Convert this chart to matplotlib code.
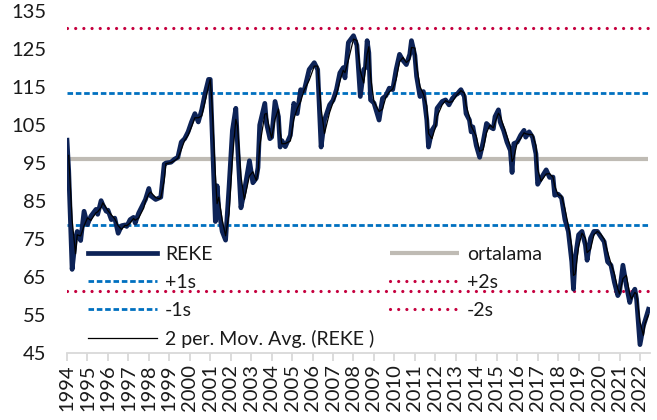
import matplotlib
matplotlib.use("Agg")
import matplotlib.pyplot as plt
import numpy as np
import pandas as pd

plt.rcParams['font.family'] = ['Lato', 'DejaVu Sans']

# ---- data ----
dates = [
    "1994-01", "1994-02", "1994-04", "1994-06", "1994-07", "1994-09", "1994-11",
    "1995-01", "1995-03", "1995-06", "1995-07", "1995-09", "1995-10", "1995-12",
    "1996-01", "1996-03", "1996-05", "1996-07", "1996-09", "1996-11", "1996-12",
    "1997-02", "1997-04", "1997-05", "1997-07", "1997-10", "1997-11",
    "1998-01", "1998-02", "1998-05", "1998-07", "1998-08", "1998-10", "1998-11",
    "1999-02", "1999-04", "1999-06", "1999-08", "1999-10", "1999-12",
    "2000-02", "2000-04", "2000-06", "2000-08", "2000-10", "2000-12",
    "2001-01", "2001-02", "2001-04", "2001-05", "2001-06", "2001-08", "2001-10", "2001-12",
    "2002-02", "2002-04", "2002-05", "2002-07", "2002-09", "2002-12",
    "2003-02", "2003-04", "2003-05", "2003-06", "2003-09", "2003-10", "2003-12",
    "2004-01", "2004-03", "2004-05", "2004-06", "2004-07", "2004-09", "2004-12",
    "2005-02", "2005-04", "2005-06", "2005-08", "2005-11",
    "2006-02", "2006-04", "2006-06", "2006-08", "2006-11",
    "2007-01", "2007-03", "2007-05", "2007-07", "2007-08", "2007-10",
    "2008-01", "2008-03", "2008-05", "2008-07", "2008-08", "2008-09", "2008-10", "2008-11",
    "2009-01", "2009-04", "2009-06", "2009-08", "2009-10", "2009-12",
    "2010-02", "2010-04", "2010-06", "2010-08", "2010-10", "2010-11",
    "2011-01", "2011-02", "2011-04", "2011-06", "2011-08", "2011-09", "2011-11",
    "2012-01", "2012-02", "2012-05", "2012-07", "2012-09", "2012-11",
    "2013-01", "2013-02", "2013-03", "2013-04", "2013-06", "2013-07", "2013-09", "2013-10", "2013-11",
    "2014-01", "2014-03", "2014-05", "2014-07", "2014-09", "2014-11", "2014-12",
    "2015-02", "2015-03", "2015-05", "2015-07", "2015-09", "2015-10", "2015-11",
    "2016-01", "2016-03", "2016-05", "2016-06", "2016-08", "2016-10", "2016-12",
    "2017-01", "2017-03", "2017-06", "2017-08", "2017-10", "2017-11",
    "2018-01", "2018-03", "2018-05", "2018-07", "2018-09", "2018-10", "2018-11",
    "2019-01", "2019-03", "2019-05", "2019-06", "2019-08", "2019-10", "2019-12",
    "2020-02", "2020-04", "2020-06", "2020-08", "2020-10", "2020-12",
    "2021-01", "2021-03", "2021-05", "2021-07", "2021-08", "2021-10", "2021-11",
    "2022-01", "2022-03", "2022-04", "2022-06",
]
reke = [
    101, 93, 67, 75.2, 77, 74.6, 82.3,
    78.8, 81, 82.8, 81.5, 85.1, 84, 82.3,
    82.6, 80.1, 80.5, 76.5, 78.5, 78.7, 78.3,
    80.1, 80.7, 79.2, 81.8, 84.5, 85.4,
    88.3, 86.4, 85.4, 85.8, 86, 94.7, 95,
    95.2, 96, 96.5, 100.5, 101.4, 103.2,
    105.8, 108, 105.8, 109, 113.4, 117,
    117, 104.5, 79.6, 89, 83, 77, 74.7, 88.5,
    103.6, 109.4, 100, 83.2, 87.6, 95.6,
    89.8, 91, 93.8, 105, 110.7, 105.4, 101.4,
    101.8, 111.2, 107.2, 99.2, 100.9, 99.3, 102.3,
    110.7, 108, 114.3, 113.9, 119.6,
    121.4, 119.6, 99.2, 106.3, 110.3,
    111.5, 114.3, 118.7, 120.1, 117.4, 126.7,
    128.5, 126, 112.5, 119.6, 120.1, 127.2, 124, 111.6,
    110.8, 106.3, 112, 112.7, 114.7, 114.3,
    119.6, 123.6, 122, 120.9, 123.6, 127.2,
    123.3, 117.8, 112.5, 113.8, 106.3, 99.2, 103.6,
    105, 109.4, 111.2, 111.6, 110.3, 112,
    113, 113.2, 113.8, 114.3, 112.5, 108, 106.3, 103.2, 104.5,
    99.6, 96.5, 100.5, 105.4, 104.5, 104, 107.2,
    109, 105.8, 103.6, 100.5, 98.3, 92.5, 100.1,
    100.5, 102.3, 103.6, 101.8, 103.2, 101.8, 97.4,
    89.4, 91, 93.2, 91.2, 91.3, 86.5,
    86.8, 85.8, 80.1, 77, 69, 61.8, 69.8,
    76.1, 77, 73.4, 69.4, 75.2, 77, 77,
    75.6, 74.3, 69, 68.1, 63.6, 60.1,
    61, 68.1, 62.8, 58.3, 60.1, 61.8, 59.2,
    47.2, 52.1, 53.5, 56.5,
]
ortalama = 96.0      # long-run mean
sigma = 17.3         # one standard deviation
year_ticks = list(range(1994, 2023))
y_ticks = list(range(45, 136, 10))

# ---- prep ----
t = np.array([int(d[:4]) + (int(d[5:]) - 1) / 12 for d in dates])
s = pd.Series(reke, index=t)
ma2 = s.rolling(2).mean()
ones = np.ones_like(t)

navy = '#0D2357'
blue = '#0070C0'
red = '#C5003E'
gray = '#BFBBB4'
txt = '#1a1a1a'

fig = plt.figure(figsize=(6.57, 4.2), dpi=100)
ax = fig.add_axes([67 / 657, (420 - 353) / 420, (650 - 67) / 657, (353 - 11) / 420])

l_mean, = ax.plot(t, ones * ortalama, color=gray, lw=3.0, solid_capstyle='butt', label='ortalama')
l_p1, = ax.plot(t, ones * (ortalama + sigma), color=blue, lw=2.0, ls=(0, (2.0, 1.0)), label='+1s')
l_m1, = ax.plot(t, ones * (ortalama - sigma), color=blue, lw=2.0, ls=(0, (2.0, 1.0)), label='-1s')
l_p2, = ax.plot(t, ones * (ortalama + 2 * sigma), color=red, lw=2.3, ls=(0, (0.01, 2.55)),
                dash_capstyle='round', label='+2s')
l_m2, = ax.plot(t, ones * (ortalama - 2 * sigma), color=red, lw=2.3, ls=(0, (0.01, 2.55)),
                dash_capstyle='round', label='-2s')
l_reke, = ax.plot(s.index, s.values, color=navy, lw=3.4, solid_joinstyle='round', label='REKE')
l_ma, = ax.plot(ma2.index, ma2.values, color='black', lw=0.9, label='2 per. Mov. Avg. (REKE )')

ax.set_xlim(1994, 2022.49)
ax.set_ylim(45, 135)
ax.set_yticks(y_ticks)
ax.set_xticks(year_ticks)
ax.set_xticklabels([str(y) for y in year_ticks])

for sp in ['left', 'top', 'right']:
    ax.spines[sp].set_visible(False)
ax.spines['bottom'].set_color('#D9D9D9')
ax.spines['bottom'].set_linewidth(1.3)
ax.tick_params(axis='x', length=6, width=1.3, color='#D9D9D9', labelrotation=90,
               labelsize=14.5, pad=2, labelcolor=txt)
ax.tick_params(axis='y', length=0, labelsize=14.5, pad=15, labelcolor=txt)

leg_kw = dict(frameon=False, fontsize=14, handlelength=3.55, handletextpad=0.4,
              labelspacing=0.56, borderpad=0, borderaxespad=0, loc='upper left',
              bbox_transform=fig.transFigure)
top = 1 - 246 / 420
leg1 = ax.legend(handles=[l_reke, l_p1, l_m1, l_ma], bbox_to_anchor=(88 / 657, top), **leg_kw)
for tx in leg1.get_texts():
    tx.set_color(txt)
ax.add_artist(leg1)
leg2 = ax.legend(handles=[l_mean, l_p2, l_m2], bbox_to_anchor=(390 / 657, top), **leg_kw)
for tx in leg2.get_texts():
    tx.set_color(txt)

fig.savefig('out.png', dpi=100)
